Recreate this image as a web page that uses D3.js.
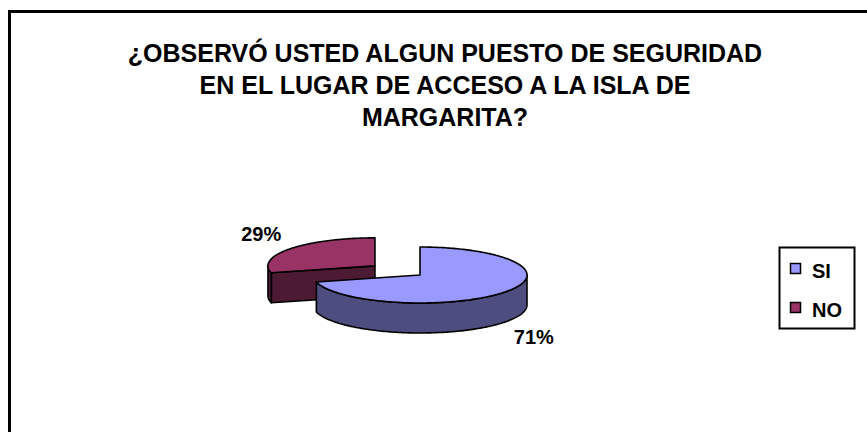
<!DOCTYPE html>
<html>
<head>
<meta charset="utf-8">
<script src="https://cdn.jsdelivr.net/npm/d3@7"></script>
<style>
  body { margin: 0; background: #fff; }
  text { font-family: "Liberation Sans", Arial, sans-serif; font-weight: bold; fill: #000; }
</style>
</head>
<body>
<script>
var width = 867,
  height = 432;

// data
var categories = ["SI", "NO"];
var values = [71, 29];
var labels = ["71%", "29%"];
var titleLines = [
  "¿OBSERVÓ USTED ALGUN PUESTO DE SEGURIDAD",
  "EN EL LUGAR DE ACCESO A LA ISLA DE",
  "MARGARITA?"
];

var topColors = ["#9999ff", "#993366"],
  sideColors = ["#4d4d80", "#4d1a33"];

var cx = 420, cy = 275,
  rx = 107, ry = 28,
  depth = 30,
  explode = [0, 57];

var svg = d3.select("body")
  .append("svg")
  .attr("width", width)
  .attr("height", height);

svg.append("rect")
  .attr("width", width)
  .attr("height", height)
  .attr("fill", "#fff");

// chart border (runs off right and bottom)
svg.append("rect")
  .attr("x", 9.5)
  .attr("y", 11.5)
  .attr("width", width + 20)
  .attr("height", height + 20)
  .attr("fill", "none")
  .attr("stroke", "#000")
  .attr("stroke-width", 3);

//----------Title----------
svg.selectAll(".title")
  .data(titleLines)
  .enter()
  .append("text")
  .attr("class", "title")
  .attr("x", 445)
  .attr("y", function (d, i) { return 62 + i * 32; })
  .attr("text-anchor", "middle")
  .style("font-size", "25px")
  .text(function (d) { return d; });

//----------Pie----------
var pie = d3.pie().sort(null).startAngle(0)(values);

var slices = pie.map(function (p, i) {
  var mid = (p.startAngle + p.endAngle) / 2;
  return {
    i: i,
    a0: p.startAngle,
    a1: p.endAngle,
    mid: mid,
    x: cx + explode[i] * Math.sin(mid),
    y: cy - explode[i] * (ry / rx) * Math.cos(mid)
  };
});

function pt(s, a, dz) {
  return [s.x + rx * Math.sin(a), s.y - ry * Math.cos(a) + (dz || 0)];
}

function arcPts(s, a0, a1, dz) {
  var n = Math.max(2, Math.ceil(Math.abs(a1 - a0) / 0.02));
  return d3.range(n + 1).map(function (k) {
    return pt(s, a0 + (a1 - a0) * k / n, dz);
  });
}

var line = d3.line();

function face(g, pts, fill) {
  g.append("path")
    .attr("d", line(pts) + "Z")
    .attr("fill", fill)
    .attr("stroke", "#000")
    .attr("stroke-width", 1.6)
    .attr("stroke-linejoin", "round");
}

function drawSlice(s) {
  var g = svg.append("g");
  var center = [s.x, s.y],
    centerLow = [s.x, s.y + depth];

  // radial faces that turn toward the viewer
  if (Math.sin(s.a0) < -1e-6) {
    var pa = pt(s, s.a0);
    face(g, [center, pa, [pa[0], pa[1] + depth], centerLow], sideColors[s.i]);
  }
  if (Math.sin(s.a1) > 1e-6) {
    var pb = pt(s, s.a1);
    face(g, [center, pb, [pb[0], pb[1] + depth], centerLow], sideColors[s.i]);
  }

  // outer wall, front half only
  var lo = Math.max(s.a0, Math.PI / 2),
    hi = Math.min(s.a1, Math.PI * 1.5);
  if (hi > lo) {
    face(g, arcPts(s, lo, hi, 0).concat(arcPts(s, hi, lo, depth)), sideColors[s.i]);
  }

  // top face
  face(g, [center].concat(arcPts(s, s.a0, s.a1, 0)), topColors[s.i]);
}

// back slice first
drawSlice(slices[1]);
drawSlice(slices[0]);

//----------Labels----------
svg.selectAll(".pct")
  .data(slices)
  .enter()
  .append("text")
  .attr("class", "pct")
  .attr("text-anchor", "middle")
  .style("font-size", "20px")
  .attr("x", function (s) { return s.x + 144 * Math.sin(s.mid); })
  .attr("y", function (s) {
    return s.y - 51.5 * Math.cos(s.mid) + 7 + (Math.cos(s.mid) < 0 ? depth : 0);
  })
  .text(function (s) { return labels[s.i]; });

//----------Legend----------
var legend = svg.append("g");

legend.append("rect")
  .attr("x", 779.5)
  .attr("y", 247.5)
  .attr("width", 75)
  .attr("height", 81)
  .attr("fill", "#fff")
  .attr("stroke", "#000")
  .attr("stroke-width", 2);

var items = legend.selectAll(".item")
  .data(categories)
  .enter()
  .append("g")
  .attr("transform", function (d, i) { return "translate(0," + (i * 39) + ")"; });

items.append("rect")
  .attr("x", 790.5)
  .attr("y", 263.5)
  .attr("width", 10)
  .attr("height", 10)
  .attr("fill", function (d, i) { return topColors[i]; })
  .attr("stroke", "#000")
  .attr("stroke-width", 1.5);

items.append("text")
  .attr("x", 812)
  .attr("y", 278)
  .style("font-size", "20px")
  .text(function (d) { return d; });
</script>
</body>
</html>
